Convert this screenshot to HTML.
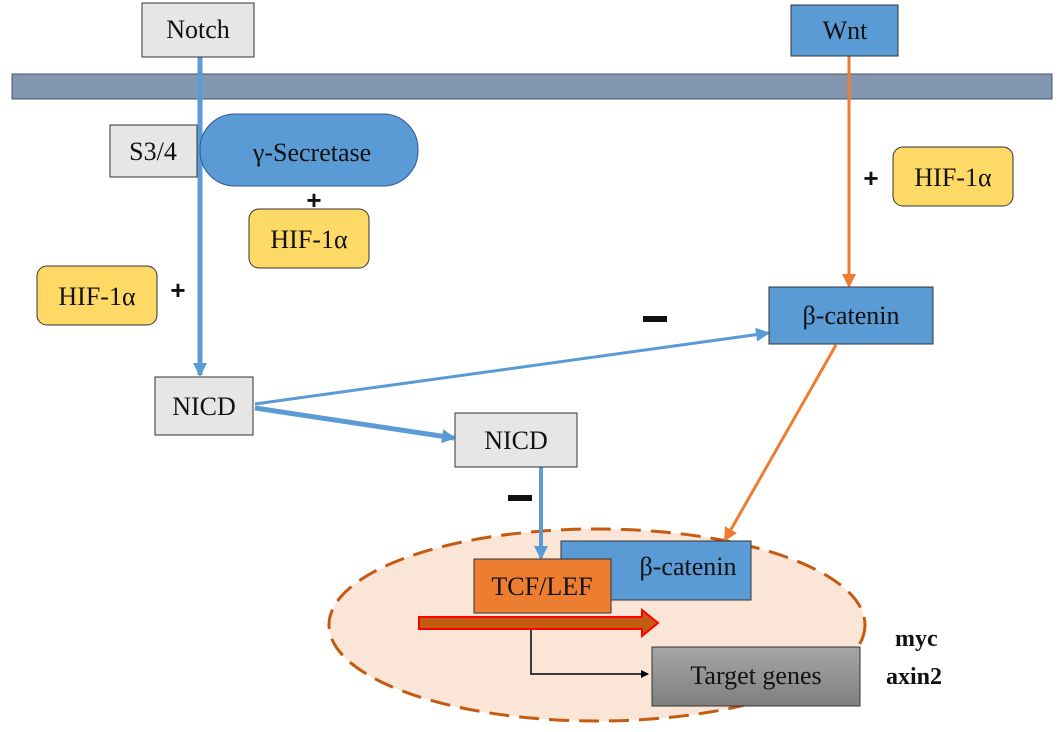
<!DOCTYPE html>
<html><head><meta charset="utf-8"><style>
html,body{margin:0;padding:0;background:#fff;}
svg{display:block;}
text{font-family:"Liberation Serif",serif;font-size:26px;fill:#111;}
.b{font-family:"Liberation Sans",sans-serif;font-weight:bold;}
</style></head><body>
<svg width="1063" height="732" viewBox="0 0 1063 732" xmlns="http://www.w3.org/2000/svg">
<defs>
<marker id="ab" markerWidth="14" markerHeight="14" refX="12" refY="7" orient="auto" markerUnits="userSpaceOnUse"><path d="M0,0 L14,7 L0,14 z" fill="#5b9bd5"/></marker>
<marker id="ao" markerWidth="14" markerHeight="14" refX="12" refY="7" orient="auto" markerUnits="userSpaceOnUse"><path d="M0,0 L14,7 L0,14 z" fill="#ed7d31"/></marker>
<marker id="ak" markerWidth="8" markerHeight="8" refX="7" refY="4" orient="auto" markerUnits="userSpaceOnUse"><path d="M0,0 L8,4 L0,8 z" fill="#000"/></marker>
<linearGradient id="g" x1="0" y1="0" x2="0" y2="1"><stop offset="0" stop-color="#a6a6a6"/><stop offset="1" stop-color="#7f7f7f"/></linearGradient>
</defs>
<rect x="12" y="74" width="1040" height="25" fill="#8497b0" stroke="#44546a" stroke-width="1"/>
<ellipse cx="597" cy="625" rx="268" ry="96" fill="#fbe5d6" stroke="#c55a11" stroke-width="3" stroke-dasharray="20,10"/>
<line x1="200" y1="57" x2="200" y2="375" stroke="#5b9bd5" stroke-width="5" marker-end="url(#ab)"/>
<line x1="849" y1="56" x2="849" y2="286" stroke="#ed7d31" stroke-width="3" marker-end="url(#ao)"/>
<line x1="255" y1="404" x2="768" y2="333" stroke="#5b9bd5" stroke-width="3" marker-end="url(#ab)"/>
<line x1="255" y1="408" x2="454" y2="438" stroke="#5b9bd5" stroke-width="5" marker-end="url(#ab)"/>
<line x1="541" y1="467" x2="541" y2="558" stroke="#5b9bd5" stroke-width="4" marker-end="url(#ab)"/>
<line x1="836" y1="345" x2="725" y2="540" stroke="#ed7d31" stroke-width="3" marker-end="url(#ao)"/>
<rect x="142" y="3" width="112" height="54" fill="#e7e6e6" stroke="#333"/>
<text x="198" y="38" text-anchor="middle">Notch</text>
<rect x="791" y="5" width="107" height="51" fill="#5b9bd5" stroke="#333"/>
<text x="845" y="39" text-anchor="middle">Wnt</text>
<rect x="110" y="125" width="87" height="52" fill="#e7e6e6" stroke="#333"/>
<text x="153" y="160" text-anchor="middle">S3/4</text>
<rect x="200" y="114" width="218" height="72" rx="35" fill="#5b9bd5" stroke="#2f5597"/>
<text x="312" y="161" text-anchor="middle">γ-Secretase</text>
<rect x="249" y="209" width="120" height="59" rx="10" fill="#ffd966" stroke="#333"/>
<text x="309" y="248" text-anchor="middle">HIF-1α</text>
<rect x="37" y="266" width="120" height="59" rx="10" fill="#ffd966" stroke="#333"/>
<text x="97" y="305" text-anchor="middle">HIF-1α</text>
<rect x="893" y="147" width="120" height="59" rx="10" fill="#ffd966" stroke="#333"/>
<text x="953" y="186" text-anchor="middle">HIF-1α</text>
<text class="b" x="314" y="209" text-anchor="middle" font-size="26">+</text>
<text class="b" x="178" y="299" text-anchor="middle" font-size="26">+</text>
<text class="b" x="871" y="187" text-anchor="middle" font-size="26">+</text>
<rect x="643" y="316" width="24" height="6" fill="#111"/>
<rect x="508" y="495" width="24" height="6" fill="#111"/>
<rect x="155" y="377" width="98" height="58" fill="#e7e6e6" stroke="#333"/>
<text x="204" y="415" text-anchor="middle">NICD</text>
<rect x="455" y="413" width="122" height="54" fill="#e7e6e6" stroke="#333"/>
<text x="516" y="449" text-anchor="middle">NICD</text>
<rect x="769" y="287" width="164" height="57" fill="#5b9bd5" stroke="#333"/>
<text x="851" y="324" text-anchor="middle">β-catenin</text>
<rect x="561" y="541" width="190" height="59" fill="#5b9bd5" stroke="#333"/>
<text x="688" y="575" text-anchor="middle">β-catenin</text>
<rect x="474" y="559" width="137" height="54" fill="#ed7d31" stroke="#333"/>
<text x="542" y="595" text-anchor="middle">TCF/LEF</text>
<path d="M419,617 L642,617 L642,610 L658,623 L642,636 L642,629 L419,629 z" fill="#c55a11" stroke="#ff0000" stroke-width="2"/>
<polyline points="531,630 531,674 648,674" fill="none" stroke="#000" stroke-width="1.5" marker-end="url(#ak)"/>
<rect x="652" y="647" width="208" height="59" fill="url(#g)" stroke="#333"/>
<text x="756" y="684" text-anchor="middle">Target genes</text>
<text x="895" y="646" style="font-weight:bold;font-size:24px">myc</text>
<text x="886" y="684" style="font-weight:bold;font-size:24px">axin2</text>
</svg>
</body></html>
